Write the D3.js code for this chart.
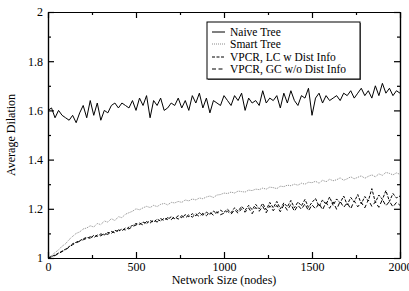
<!DOCTYPE html>
<html>
<head>
<meta charset="utf-8">
<script src="https://cdn.jsdelivr.net/npm/d3@7"></script>
<style>
  body { margin: 0; background: #fff; }
  svg { display: block; }
  svg text { font-family: "Liberation Serif", "Times New Roman", Times, serif !important; }
</style>
</head>
<body>
<div id="chart"></div>
<script>
// DATA (network size step of 20 nodes)
var networkSizes = d3.range(0, 2001, 20);

var naiveTree = [
  1.60,1.61,1.57,1.60,1.58,1.57,1.56,1.58,1.55,1.59,1.62,1.57,1.64,1.58,1.63,1.56,1.60,1.59,1.62,1.63,
  1.61,1.63,1.62,1.61,1.64,1.60,1.65,1.62,1.66,1.57,1.64,1.62,1.65,1.60,1.61,1.63,1.62,1.65,1.61,1.64,
  1.60,1.66,1.63,1.67,1.61,1.65,1.59,1.64,1.63,1.62,1.66,1.64,1.62,1.66,1.64,1.67,1.60,1.65,1.63,1.64,
  1.62,1.68,1.63,1.65,1.64,1.66,1.61,1.67,1.63,1.68,1.64,1.62,1.66,1.65,1.69,1.58,1.65,1.67,1.63,1.66,
  1.64,1.65,1.66,1.64,1.67,1.66,1.68,1.65,1.67,1.69,1.66,1.68,1.65,1.70,1.66,1.71,1.67,1.69,1.66,1.68,
  1.67];

var smartTree = [
  1.000,1.010,1.022,1.033,1.048,1.058,1.075,1.088,1.100,1.106,1.118,
  1.122,1.131,1.126,1.140,1.136,1.150,1.146,1.160,1.152,1.168,1.164,1.178,1.184,1.190,1.200,
  1.196,1.204,1.210,1.205,1.214,1.209,1.218,1.222,1.216,1.226,1.224,1.230,1.226,1.236,1.232,
  1.240,1.236,1.244,1.241,1.248,1.252,1.246,1.256,1.258,1.264,
  1.262,1.268,1.264,1.272,1.270,1.268,1.276,1.274,1.280,1.278,1.284,1.280,1.288,1.286,1.282,
  1.292,1.290,1.296,1.294,1.300,1.296,1.304,1.300,1.308,1.306,
  1.312,1.304,1.316,1.310,1.320,1.314,1.318,1.326,1.316,1.322,1.330,1.322,1.328,1.334,1.324,
  1.332,1.338,1.330,1.342,1.336,1.348,1.344,1.338,1.346,1.340];

var vpcrLC = [
  1.000,1.006,1.012,1.020,1.028,1.036,1.046,1.058,1.064,1.070,1.078,
  1.084,1.080,1.092,1.088,1.098,1.094,1.104,1.100,1.112,1.108,1.118,1.114,1.126,1.132,1.140,
  1.136,1.146,1.140,1.152,1.146,1.158,1.150,1.162,1.156,1.168,1.160,1.172,1.164,1.176,1.168,
  1.180,1.172,1.184,1.174,1.186,1.178,1.190,1.182,1.194,1.186,
  1.198,1.184,1.204,1.190,1.210,1.194,1.214,1.196,1.218,1.200,1.222,1.196,1.226,1.204,1.230,
  1.200,1.224,1.208,1.234,1.204,1.228,1.212,1.238,1.206,1.226,
  1.242,1.210,1.236,1.218,1.248,1.214,1.240,1.224,1.252,1.216,1.246,1.228,1.258,1.220,1.250,
  1.232,1.282,1.226,1.256,1.238,1.274,1.230,1.262,1.244,1.252];

var vpcrGC = [
  1.000,1.005,1.010,1.018,1.026,1.034,1.044,1.054,1.062,1.068,1.074,
  1.080,1.086,1.082,1.094,1.090,1.100,1.096,1.108,1.102,1.114,1.110,1.122,1.118,1.128,1.134,
  1.142,1.134,1.148,1.142,1.154,1.146,1.160,1.152,1.164,1.156,1.168,1.158,1.172,1.162,1.176,
  1.166,1.180,1.168,1.182,1.172,1.186,1.174,1.188,1.176,1.182,
  1.190,1.178,1.196,1.182,1.200,1.186,1.204,1.180,1.206,1.190,1.210,1.184,1.212,1.192,1.214,
  1.188,1.216,1.194,1.218,1.190,1.214,1.198,1.220,1.192,1.216,
  1.200,1.222,1.196,1.226,1.202,1.228,1.198,1.230,1.206,1.224,1.200,1.232,1.208,1.226,1.204,
  1.236,1.210,1.228,1.206,1.238,1.212,1.230,1.208,1.226,1.214];

var seriesNames = ["Naive Tree", "Smart Tree", "VPCR, LC w Dist Info", "VPCR, GC w/o Dist Info"];
var seriesValues = [naiveTree, smartTree, vpcrLC, vpcrGC];

var xMajorTicks = [0, 500, 1000, 1500, 2000],
    xMinorTicks = [250, 750, 1250, 1750],
    yMajorTicks = [1, 1.2, 1.4, 1.6, 1.8, 2],
    yMinorTicks = [1.1, 1.3, 1.5, 1.7, 1.9];

// LAYOUT
var svgWidth = 409,
    svgHeight = 291,
    plotLeft = 48,
    plotRight = 400,
    plotTop = 12,
    plotBottom = 258,
    majorTick = 6,
    minorTick = 3,
    fontSize = 12,
    serif = "Liberation Serif";

var styles = [
  {stroke: "#000", dash: null, width: 1},
  {stroke: "#8a8a8a", dash: "1,1", width: 1},
  {stroke: "#000", dash: "3,1.5", width: 1},
  {stroke: "#000", dash: "4,2.5", width: 1}
];

var x = d3.scaleLinear().domain([0, 2000]).range([plotLeft, plotRight]);
var y = d3.scaleLinear().domain([1, 2]).range([plotBottom, plotTop]);

var svg = d3.select("#chart").append("svg")
  .attr("width", svgWidth)
  .attr("height", svgHeight)
  .attr("font-family", serif);

// LINES
var line = d3.line()
  .x(function(d){ return x(d[0]); })
  .y(function(d){ return y(d[1]); });

var plot = svg.append("g");
seriesValues.forEach(function(vals, k){
  var pts = vals.map(function(v, i){ return [networkSizes[i], v]; });
  plot.append("path")
    .datum(pts)
    .attr("d", line)
    .attr("fill", "none")
    .attr("stroke", styles[k].stroke)
    .attr("stroke-width", styles[k].width)
    .attr("stroke-dasharray", styles[k].dash);
});

// AXES
function styleAxis(g){
  g.attr("font-family", serif).attr("font-size", fontSize);
  g.selectAll("path, line").attr("stroke", "#000").attr("stroke-width", 1.2);
  g.selectAll("text").attr("fill", "#000");
}

svg.append("g")
  .attr("transform", "translate(0," + plotBottom + ")")
  .call(d3.axisBottom(x).tickValues(xMajorTicks).tickSize(-majorTick).tickSizeOuter(0).tickPadding(4)
    .tickFormat(d3.format("d")))
  .call(styleAxis);
svg.append("g")
  .attr("transform", "translate(0," + plotBottom + ")")
  .call(d3.axisBottom(x).tickValues(xMinorTicks).tickSize(-minorTick).tickSizeOuter(0).tickFormat(""))
  .call(styleAxis);
svg.append("g")
  .attr("transform", "translate(0," + plotTop + ")")
  .call(d3.axisTop(x).tickValues(xMajorTicks).tickSize(-majorTick).tickSizeOuter(0).tickFormat(""))
  .call(styleAxis);
svg.append("g")
  .attr("transform", "translate(0," + plotTop + ")")
  .call(d3.axisTop(x).tickValues(xMinorTicks).tickSize(-minorTick).tickSizeOuter(0).tickFormat(""))
  .call(styleAxis);

svg.append("g")
  .attr("transform", "translate(" + plotLeft + ",0)")
  .call(d3.axisLeft(y).tickValues(yMajorTicks).tickSize(-majorTick).tickSizeOuter(0).tickPadding(5)
    .tickFormat(function(d){ return d === 1 || d === 2 ? d3.format("d")(d) : d3.format(".1f")(d); }))
  .call(styleAxis);
svg.append("g")
  .attr("transform", "translate(" + plotLeft + ",0)")
  .call(d3.axisLeft(y).tickValues(yMinorTicks).tickSize(-minorTick).tickSizeOuter(0).tickFormat(""))
  .call(styleAxis);
svg.append("g")
  .attr("transform", "translate(" + plotRight + ",0)")
  .call(d3.axisRight(y).tickValues(yMajorTicks).tickSize(-majorTick).tickSizeOuter(0).tickFormat(""))
  .call(styleAxis);
svg.append("g")
  .attr("transform", "translate(" + plotRight + ",0)")
  .call(d3.axisRight(y).tickValues(yMinorTicks).tickSize(-minorTick).tickSizeOuter(0).tickFormat(""))
  .call(styleAxis);

// AXIS TITLES
svg.append("text")
  .text("Network Size (nodes)")
  .attr("x", (plotLeft + plotRight) / 2)
  .attr("y", 284)
  .attr("text-anchor", "middle")
  .attr("font-size", fontSize);

svg.append("text")
  .text("Average Dilation")
  .attr("transform", "translate(15," + ((plotTop + plotBottom) / 2) + ") rotate(-90)")
  .attr("text-anchor", "middle")
  .attr("font-size", fontSize);

// LEGEND
var legendX = 207, legendY = 22, legendW = 153, legendH = 57;
var legendRows = [32, 44, 57, 69];

svg.append("rect")
  .attr("x", legendX + 1).attr("y", legendY + 1)
  .attr("width", legendW).attr("height", legendH)
  .attr("fill", "#666");
svg.append("rect")
  .attr("x", legendX).attr("y", legendY)
  .attr("width", legendW).attr("height", legendH)
  .attr("fill", "#fff")
  .attr("stroke", "#000")
  .attr("stroke-width", 1);

var legend = svg.selectAll(".legend")
  .data(seriesNames).enter()
  .append("g")
  .attr("class", "legend");

legend.append("line")
  .attr("x1", 212).attr("x2", 225)
  .attr("y1", function(d, i){ return legendRows[i]; })
  .attr("y2", function(d, i){ return legendRows[i]; })
  .attr("stroke", function(d, i){ return styles[i].stroke; })
  .attr("stroke-width", 1)
  .attr("stroke-dasharray", function(d, i){ return styles[i].dash; });

legend.append("text")
  .text(function(d){ return d; })
  .attr("x", 230)
  .attr("y", function(d, i){ return legendRows[i]; })
  .attr("dy", "0.35em")
  .attr("font-size", 11.5);
</script>
</body>
</html>
